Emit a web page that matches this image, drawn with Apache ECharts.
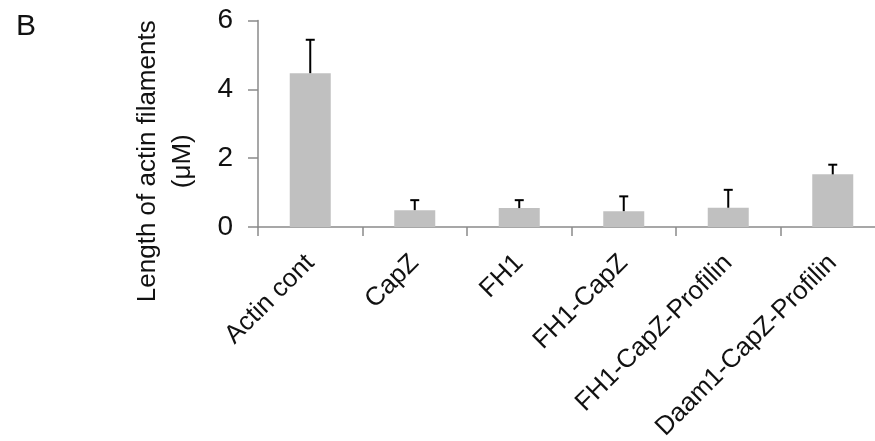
<!DOCTYPE html>
<html>
<head>
<meta charset="utf-8">
<script src="https://cdn.jsdelivr.net/npm/echarts@6/dist/echarts.min.js"></script>
<style>
html,body{margin:0;padding:0;background:#fff;}
#chart{width:875px;height:441px;}
</style>
</head>
<body>
<div id="chart"></div>
<script>
const categories = ['Actin cont', 'CapZ', 'FH1', 'FH1-CapZ', 'FH1-CapZ-Profilin', 'Daam1-CapZ-Profilin'];
const means = [4.47, 0.49, 0.55, 0.46, 0.56, 1.53];
const upperErrors = [5.44, 0.78, 0.78, 0.89, 1.08, 1.81];
const yTicks = [0, 2, 4, 6];

const FONT = '"Liberation Sans", Arial, sans-serif';
const chart = echarts.init(document.getElementById('chart'), null, {renderer: 'canvas'});

chart.setOption({
  animation: false,
  backgroundColor: '#ffffff',
  title: {
    text: 'B',
    left: 11,
    top: 7,
    textStyle: {fontFamily: FONT, fontSize: 30, fontWeight: 'normal', color: '#111'}
  },
  grid: {left: 258, top: 20.5, width: 627, bottom: 214, containLabel: false, outerBoundsMode: 'none'},
  xAxis: {
    type: 'category',
    data: categories,
    boundaryGap: true,
    axisLine: {lineStyle: {color: '#8a8a8a', width: 1.5}},
    axisTick: {show: true, length: 9, alignWithLabel: false, lineStyle: {color: '#8a8a8a', width: 1.5}},
    axisLabel: {
      rotate: 45,
      margin: 32,
      interval: 0,
      fontFamily: FONT,
      fontSize: 26,
      color: '#111'
    }
  },
  yAxis: {
    type: 'value',
    min: yTicks[0],
    max: yTicks[yTicks.length - 1],
    interval: 2,
    name: 'Length of actin filaments\n(μM)',
    nameLocation: 'middle',
    nameRotate: 90,
    nameGap: 58,
    nameTextStyle: {fontFamily: FONT, fontSize: 26, color: '#111', lineHeight: 35, align: 'center', padding: [0, 75, 0, 0]},
    axisLine: {show: true, lineStyle: {color: '#8a8a8a', width: 1.5}},
    axisTick: {show: true, length: 10, lineStyle: {color: '#8a8a8a', width: 1.5}},
    splitLine: {show: false},
    axisLabel: {margin: 25, fontFamily: FONT, fontSize: 28, color: '#111'}
  },
  series: [
    {
      type: 'bar',
      data: means,
      barWidth: 41,
      itemStyle: {color: '#c0c0c0'},
      z: 2
    },
    {
      type: 'custom',
      data: categories.map((c, i) => [i, means[i], upperErrors[i]]),
      z: 3,
      renderItem: function (params, api) {
        const i = api.value(0);
        const base = api.coord([i, api.value(1)]);
        const top = api.coord([i, api.value(2)]);
        const half = 4.5;
        return {
          type: 'group',
          children: [
            {type: 'line', shape: {x1: base[0], y1: base[1], x2: top[0], y2: top[1]}, style: {stroke: '#000', lineWidth: 2}},
            {type: 'line', shape: {x1: top[0] - half, y1: top[1], x2: top[0] + half, y2: top[1]}, style: {stroke: '#000', lineWidth: 2}}
          ]
        };
      }
    }
  ]
});
</script>
</body>
</html>
